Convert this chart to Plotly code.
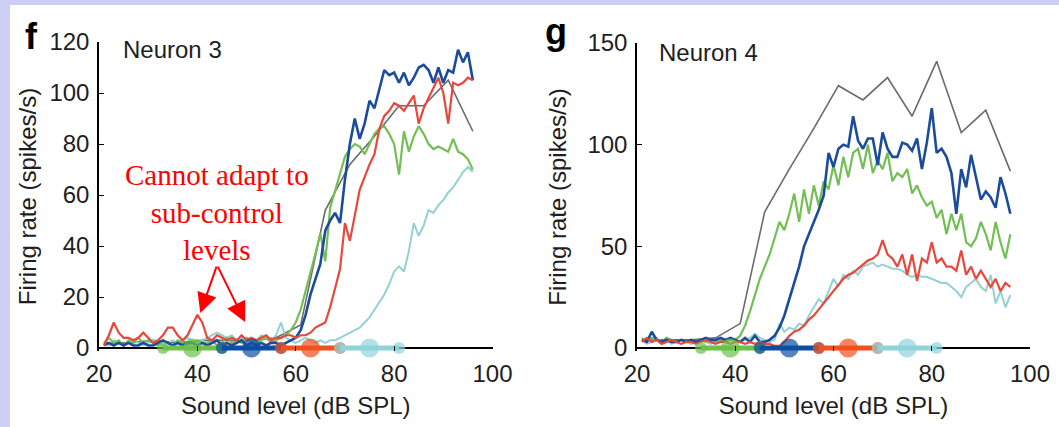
import plotly.graph_objects as go

# ---------------- data ----------------
levels = list(range(21, 97))          # sound level grid (dB SPL), 1 dB steps
ctrl_levels = [21, 26, 31, 36, 41, 46, 51, 56, 61, 66, 71, 76, 81, 86, 91, 96]

# Neuron 3
n3_gray = [2, 2, 3, 2, 3, 3, 3, 4, 9, 54, 72, 83, 95, 95, 105, 85]
n3_blue = [1, 2, 1, 2, 1, 2, 1, 1, 2, 1,
           1, 2, 3, 2, 1, 2, 1, 2, 2, 1,
           2, 1, 2, 3, 1, 2, 1, 2, 3, 1,
           2, 1, 2, 1, 2, 2, 1, 2, 3, 4,
           7, 13, 21, 27, 33, 46, 50, 53, 49, 66,
           80, 90, 82, 88, 97, 94, 101, 109, 107, 108,
           104, 108, 103, 106, 110, 111, 109, 104, 110, 104,
           109, 108, 117, 112, 116, 105]
n3_red = [1, 5, 10, 6, 4, 4, 3, 4, 6, 4,
          2, 3, 5, 8, 8, 5, 3, 5, 9, 13,
          10, 4, 3, 5, 4, 3, 4, 3, 5, 3,
          4, 3, 4, 5, 3, 4, 4, 5, 5, 4,
          5, 5, 6, 8, 9, 10, 16, 24, 31, 49,
          42, 52, 62, 67, 72, 76, 86, 91, 93, 96,
          95, 93, 96, 99, 88, 94, 98, 102, 106, 100,
          88, 104, 103, 104, 106, 105]
n3_green = [2, 4, 2, 3, 1, 3, 2, 4, 2, 3,
            2, 1, 3, 2, 1, 3, 2, 1, 2, 3,
            2, 2, 3, 1, 2, 4, 2, 3, 2, 4,
            3, 2, 3, 4, 2, 3, 4, 5, 7, 10,
            15, 22, 30, 37, 45, 34, 55, 62, 68, 75,
            78, 80, 79, 76, 80, 84, 86, 87, 84, 80,
            68, 85, 77, 83, 87, 84, 80, 78, 79, 78,
            77, 82, 77, 76, 74, 70]
n3_cyan = [2, 1, 3, 2, 1, 2, 3, 2, 1, 2,
           3, 2, 1, 2, 3, 2, 3, 4, 3, 2,
           3, 4, 5, 6, 5, 4, 5, 3, 4, 3,
           4, 3, 5, 4, 3, 5, 10, 4, 3, 2,
           3, 4, 3, 2, 3, 2, 3, 3, 4, 5,
           6, 7, 8, 10, 12, 15, 18, 21, 25, 30,
           32, 30, 38, 49, 44, 48, 54, 53, 56, 58,
           61, 63, 66, 69, 71, 69]

# Neuron 4
n4_gray = [4, 4, 4, 5, 12, 67, 88, 108, 129, 122, 133, 114, 141, 106, 117, 87]
n4_blue = [4, 3, 8, 4, 3, 4, 3, 3, 4, 3,
           4, 3, 4, 5, 4, 4, 5, 4, 5, 4,
           3, 5, 3, 6, 3, 3, 4, 6, 10, 16,
           24, 32, 40, 50, 56, 62, 68, 75, 96, 89,
           98, 100, 99, 114, 102, 98, 103, 103, 90, 106,
           98, 94, 94, 101, 100, 97, 103, 88, 101, 118,
           96, 98, 94, 86, 66, 88, 79, 95, 84, 73,
           77, 74, 69, 84, 76, 66]
n4_green = [5, 3, 5, 4, 3, 5, 4, 3, 4, 3,
            4, 3, 4, 3, 4, 3, 4, 3, 4, 4,
            6, 11, 18, 26, 34, 40, 46, 54, 62, 58,
            66, 76, 62, 78, 66, 80, 70, 82, 78, 90,
            80, 94, 84, 96, 98, 88, 100, 86, 92, 88,
            96, 82, 86, 84, 88, 76, 80, 74, 70, 72,
            64, 68, 56, 66, 58, 66, 52, 50, 54, 62,
            56, 48, 62, 52, 44, 56]
n4_red = [3, 5, 3, 4, 2, 3, 4, 3, 2, 3,
          3, 2, 3, 4, 3, 2, 3, 3, 2, 3,
          3, 2, 3, 2, 3, 2, 2, 1, 1, 3,
          6, 8, 9, 11, 14, 16, 19, 22, 25, 28,
          31, 34, 36, 37, 39, 41, 43, 44, 46, 53,
          46, 44, 40, 46, 36, 46, 33, 44, 42, 52,
          42, 44, 40, 40, 38, 48, 36, 40, 34, 38,
          34, 30, 34, 28, 32, 30]
n4_cyan = [4, 2, 3, 5, 3, 4, 2, 3, 4, 3,
           2, 3, 4, 3, 2, 3, 4, 3, 5, 4,
           3, 4, 5, 7, 5, 4, 3, 4, 12, 8,
           10, 9, 12, 11, 16, 20, 24, 22, 28, 34,
           30, 36, 34, 38, 36, 40, 41, 42, 40, 41,
           40, 39, 39, 38, 36, 35, 36, 35, 35, 34,
           33, 32, 32, 30, 28, 25, 30, 32, 34, 30,
           28, 36, 22, 28, 20, 26]

# high-probability stimulus regions (dB SPL): low edge, mode, high edge
region_lo = [33, 45, 57, 69]
region_mid = [39, 51, 63, 75]
region_hi = [45, 57, 69, 81]

x_ticks = [20, 40, 60, 80, 100]
n3_yticks = [0, 20, 40, 60, 80, 100, 120]
n4_yticks = [0, 50, 100, 150]

# ---------------- styles ----------------
W, H = 1059, 427
LINE_COLORS = {"gray": "#6b6b6b", "blue": "#1b4c9c", "red": "#e8473b",
               "green": "#73bf53", "cyan": "#93d1d4"}
LINE_WIDTHS = {"gray": 1.6, "blue": 2.6, "red": 2.2, "green": 2.2, "cyan": 2.0}
REGION_COLORS = ["#6cc148", "#0d4ea2", "#f2501e", "#90d4db"]
FONT = "Liberation Sans"
TXT = "#1e1e1e"
FS = 24

fig = go.Figure()

panels = [
    ("x", "y", n3_gray, n3_cyan, n3_green, n3_blue, n3_red),
    ("x2", "y2", n4_gray, n4_cyan, n4_green, n4_blue, n4_red),
]
for xa, ya, g, c, gr, b, r in panels:
    fig.add_trace(go.Scatter(x=ctrl_levels, y=g, mode="lines", xaxis=xa, yaxis=ya,
                             line=dict(color=LINE_COLORS["gray"], width=LINE_WIDTHS["gray"])))
    for name, vals in (("cyan", c), ("green", gr), ("blue", b), ("red", r)):
        fig.add_trace(go.Scatter(x=levels, y=vals, mode="lines", xaxis=xa, yaxis=ya,
                                 line=dict(color=LINE_COLORS[name], width=LINE_WIDTHS[name])))
    for lo, mid, hi, col in zip(region_lo, region_mid, region_hi, REGION_COLORS):
        fig.add_trace(go.Scatter(x=[lo, mid, hi], y=[0, 0, 0], mode="lines+markers",
                                 xaxis=xa, yaxis=ya, cliponaxis=False,
                                 line=dict(color=col, width=5),
                                 marker=dict(color=col, size=[12, 19, 12], line=dict(width=0))))

tick_font = dict(family=FONT, size=FS, color=TXT)
x_common = dict(showline=False, ticks="inside", ticklen=5, tickcolor="black", tickwidth=1,
                showgrid=False, zeroline=False, automargin=False, tickfont=tick_font,
                range=[20, 100], tickvals=x_ticks, ticklabelstandoff=6)
y_common = dict(showline=True, linecolor="black", linewidth=1.5, ticks="inside", ticklen=5,
                tickcolor="black", tickwidth=1, showgrid=False, zeroline=True,
                zerolinecolor="black", zerolinewidth=1.5, automargin=False,
                tickfont=tick_font, layer="below traces", ticklabelstandoff=3)

# y=0 sits at pixel row 348; a small negative margin keeps the region bars unclipped
Y0_PX, PAD_PX = 348, 3
n3_top_px, n4_top_px = 42, 43
n3_scale = (Y0_PX - n3_top_px) / 120
n4_scale = (Y0_PX - n4_top_px) / 150

fig.update_layout(
    width=W, height=H, margin=dict(l=0, r=0, t=0, b=0, autoexpand=False),
    paper_bgcolor="#cdcdf6", plot_bgcolor="white", showlegend=False,
    font=dict(family=FONT, size=FS, color=TXT),
    xaxis=dict(domain=[99 / W, 492.5 / W], anchor="y",
               title=dict(text="Sound level (dB SPL)", standoff=11, font=tick_font),
               **x_common),
    yaxis=dict(domain=[1 - (Y0_PX + PAD_PX) / H, 1 - n3_top_px / H],
               range=[-PAD_PX / n3_scale, 120], tickvals=n3_yticks, anchor="x",
               title=dict(text="Firing rate (spikes/s)", standoff=6, font=tick_font),
               **y_common),
    xaxis2=dict(domain=[637 / W, 1030 / W], anchor="y2",
                title=dict(text="Sound level (dB SPL)", standoff=11, font=tick_font),
                **x_common),
    yaxis2=dict(domain=[1 - (Y0_PX + PAD_PX) / H, 1 - n4_top_px / H],
                range=[-PAD_PX / n4_scale, 150], tickvals=n4_yticks, anchor="x2",
                title=dict(text="Firing rate (spikes/s)", standoff=14, font=tick_font),
                **y_common),
    shapes=[dict(type="rect", xref="paper", yref="paper", x0=10 / W, x1=1.01,
                 y0=-0.01, y1=1 - 5 / H, fillcolor="white", line=dict(width=0),
                 layer="below")],
)


def paper_text(text, px, py, size, xanchor="center", family=FONT, color=TXT):
    return dict(text=text, x=px / W, y=1 - py / H, xref="paper", yref="paper",
                xanchor=xanchor, yanchor="middle", showarrow=False,
                font=dict(family=family, size=size, color=color))


ann = [
    paper_text("<b>f</b>", 31, 37, 36, color="black"),
    paper_text("<b>g</b>", 556, 32, 36, color="black"),
    paper_text("Neuron 3", 121, 49, FS, xanchor="left"),
    paper_text("Neuron 4", 657, 52, FS, xanchor="left"),
]
call = paper_text("Cannot adapt to<br>sub-control<br>levels", 217, 212, 29,
                  family="Liberation Serif", color="#ff0000")
call["align"] = "center"
ann.append(call)
for hx, hy in ((40.6, 13.7), (49.7, 10.2)):
    ann.append(dict(text="", x=hx, y=hy, ax=44.0, ay=32.5, xref="x", yref="y",
                    axref="x", ayref="y", showarrow=True, arrowhead=2, arrowsize=2,
                    arrowwidth=2, arrowcolor="#ff0000"))
fig.update_layout(annotations=ann)

fig.write_html("out.html")
